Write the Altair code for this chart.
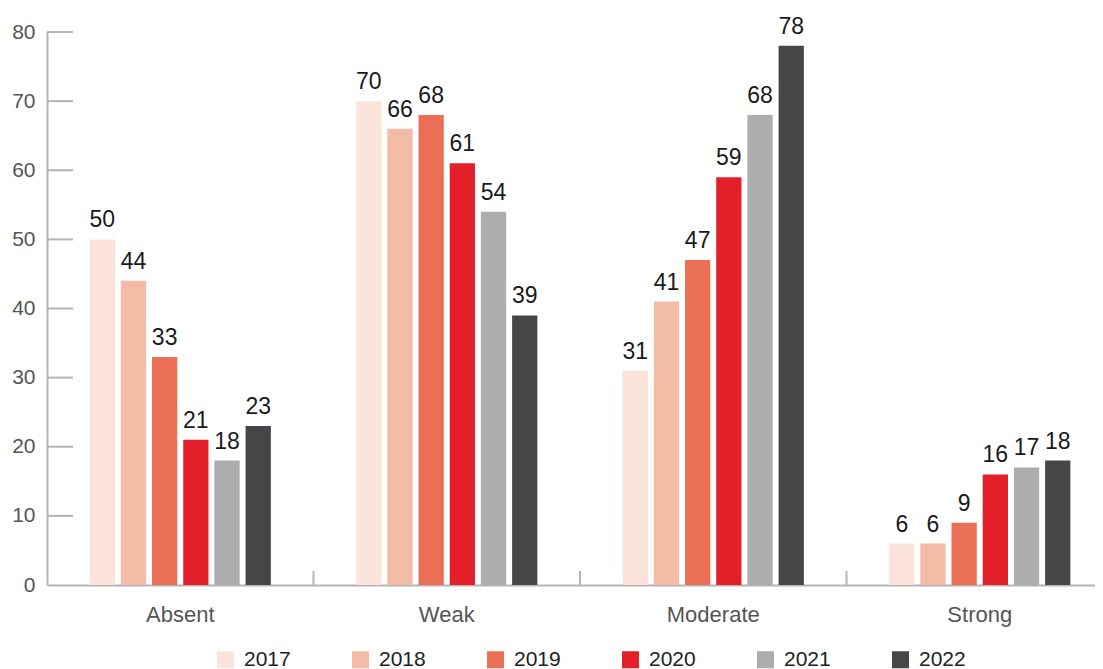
import altair as alt
import pandas as pd

categories = ["Absent", "Weak", "Moderate", "Strong"]
years = ["2017", "2018", "2019", "2020", "2021", "2022"]
v2017 = [50, 70, 31, 6]
v2018 = [44, 66, 41, 6]
v2019 = [33, 68, 47, 9]
v2020 = [21, 61, 59, 16]
v2021 = [18, 54, 68, 17]
v2022 = [23, 39, 78, 18]
colors = ["#FBE4DA", "#F4BBA7", "#EB6F55", "#E3202A", "#ADADB0", "#464547"]
y_ticks = [0, 10, 20, 30, 40, 50, 60, 70, 80]
boundary_cats = ["Weak", "Moderate", "Strong"]

series = [v2017, v2018, v2019, v2020, v2021, v2022]
rows = []
for yr, vals in zip(years, series):
    for c, v in zip(categories, vals):
        rows.append({"category": c, "year": yr, "value": v})
df = pd.DataFrame(rows)

W, H = 1066, 553
FONT = "Liberation Sans"
P_IN, P_OUT = 0.32, 0.16
STEP = W / (len(categories) - P_IN + 2 * P_OUT)

xscale = alt.Scale(domain=categories, paddingInner=P_IN, paddingOuter=P_OUT)
yscale = alt.Scale(domain=[0, 80])

x_enc = alt.X("category:N", sort=categories, scale=xscale,
              axis=alt.Axis(title=None, labelAngle=0, ticks=False, domain=True,
                            domainColor="#B4B4B8", domainWidth=2,
                            labelFontSize=22, labelColor="#555555", labelFont=FONT,
                            labelPadding=19))
y_enc = alt.Y("value:Q", scale=yscale,
              axis=alt.Axis(title=None, values=y_ticks, ticks=False, grid=False,
                            domain=True, domainColor="#B4B4B8", domainWidth=2,
                            labelFontSize=21, labelColor="#555555", labelFont=FONT,
                            labelPadding=12))
xoff = alt.XOffset("year:N", sort=years, scale=alt.Scale(paddingInner=0.19))

bars = alt.Chart(df).mark_bar().encode(
    x=x_enc, y=y_enc, xOffset=xoff,
    color=alt.Color("year:N", sort=years,
                    scale=alt.Scale(domain=years, range=colors),
                    legend=alt.Legend(title=None, orient="none", legendX=168, legendY=617,
                                      direction="horizontal", columns=6,
                                      symbolType="square", symbolSize=289,
                                      symbolStrokeWidth=0, symbolOpacity=1,
                                      labelFontSize=21, labelColor="#222222",
                                      labelFont=FONT, labelOffset=8,
                                      columnPadding=59)),
)

labels = alt.Chart(df).mark_text(baseline="alphabetic", dy=-12, fontSize=23,
                                 color="#1A1A1A", font=FONT).encode(
    x=alt.X("category:N", sort=categories, scale=xscale),
    xOffset=xoff,
    y=alt.Y("value:Q", scale=yscale),
    text=alt.Text("value:Q"),
)

tick_df = pd.DataFrame({"t": y_ticks[1:]})
yticks = alt.Chart(tick_df).mark_rule(color="#B4B4B8", strokeWidth=2).encode(
    y=alt.Y("t:Q", scale=yscale),
    x=alt.value(0), x2=alt.value(26),
)

bdf = pd.DataFrame({"category": boundary_cats})
bticks = alt.Chart(bdf).mark_rule(color="#B4B4B8", strokeWidth=2,
                                  xOffset=-P_OUT * STEP).encode(
    x=alt.X("category:N", sort=categories, scale=xscale, bandPosition=0),
    y=alt.value(H - 14), y2=alt.value(H),
)

chart = alt.layer(bars, labels, yticks, bticks).properties(
    width=W, height=H,
    autosize=alt.AutoSizeParams(type="none"),
    padding={"left": 39, "top": 24, "right": -18, "bottom": 84},
).configure_view(stroke=None)

chart.save("out.html", embed_options={"renderer": "svg", "actions": False})
